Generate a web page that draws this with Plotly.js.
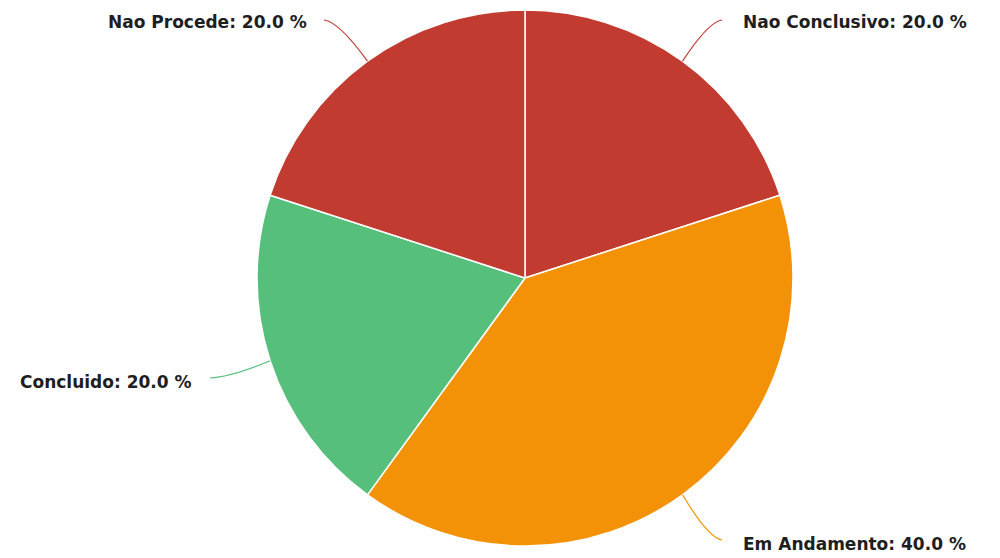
<!DOCTYPE html>
<html>
<head>
<meta charset="utf-8">
<script src="https://cdn.plot.ly/plotly-3.0.1.min.js"></script>
<style>html,body{margin:0;padding:0;background:#fff;}#chart{width:1000px;height:558px;}</style>
</head>
<body>
<div id="chart"></div>
<script>
const categories = ["Nao Conclusivo", "Em Andamento", "Concluido", "Nao Procede"];
const values = [20, 40, 20, 20];
const colors = ["#C23B31", "#F39207", "#56BF7B", "#C23B31"];

const W = 1000, H = 558;
const cx = 525, cy = 278, R = 268;
const total = values.reduce((a, b) => a + b, 0);

// label placement (pixel) per slice
const labelPos = [
  {x: 741, y: 22, anchor: "left", elbow: {x: 722, y: 20}},
  {x: 741, y: 544, anchor: "left", elbow: {x: 722, y: 540}},
  {x: 194, y: 382, anchor: "right", elbow: {x: 210, y: 378}},
  {x: 309, y: 22, anchor: "right", elbow: {x: 324, y: 20}}
];

const px = x => x / W;
const py = y => 1 - y / H;

const annotations = [];
const shapes = [];
let cum = 0;
values.forEach((v, i) => {
  const mid = (cum + v / 2) / total * 2 * Math.PI;
  cum += v;
  const ex = cx + R * Math.sin(mid);
  const ey = cy - R * Math.cos(mid);
  const lp = labelPos[i];
  const pct = (v / total * 100).toFixed(1);
  annotations.push({
    x: px(lp.x), y: py(lp.y), xref: "paper", yref: "paper",
    text: categories[i] + ": " + pct + " %",
    showarrow: false, xanchor: lp.anchor, yanchor: "middle",
    font: {family: "DejaVu Sans", size: 17, color: "#1e1e1e", weight: "bold"}
  });
  const ctrlx = lp.elbow.x + (ex - lp.elbow.x) * 0.35;
  const ctrly = lp.elbow.y + (ey - lp.elbow.y) * 0.05;
  shapes.push({
    type: "path", xref: "paper", yref: "paper",
    path: `M ${px(lp.elbow.x)} ${py(lp.elbow.y)} Q ${px(ctrlx)} ${py(ctrly)} ${px(ex)} ${py(ey)}`,
    line: {color: colors[i], width: 1.2}
  });
});

const trace = {
  type: "pie",
  labels: categories,
  values: values,
  sort: false,
  direction: "clockwise",
  rotation: 0,
  textinfo: "none",
  hoverinfo: "label+percent",
  marker: {colors: colors, line: {color: "#ffffff", width: 1.5}},
  domain: {x: [0.257, 0.793], y: [12 / H, 1 - 10 / H]},
  showlegend: false
};

const layout = {
  width: W, height: H,
  margin: {l: 0, r: 0, t: 0, b: 0},
  paper_bgcolor: "#ffffff",
  plot_bgcolor: "#ffffff",
  showlegend: false,
  annotations: annotations,
  shapes: shapes
};

Plotly.newPlot("chart", [trace], layout, {displayModeBar: false, staticPlot: true});
</script>
</body>
</html>
